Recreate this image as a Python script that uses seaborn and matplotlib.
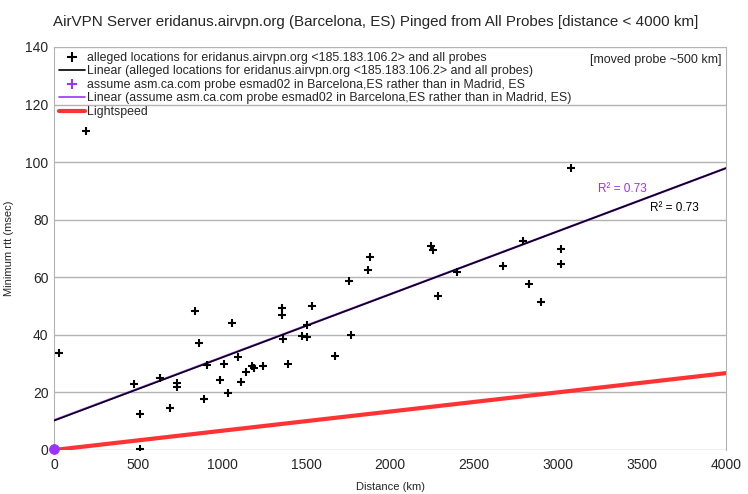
import numpy as np
import pandas as pd
import matplotlib
matplotlib.use('Agg')
import matplotlib.pyplot as plt
import seaborn as sns
from matplotlib.lines import Line2D

# probe distances (km) and minimum rtt (msec)
distance_km = [32, 190, 474, 512, 512, 629, 689, 730, 730, 841, 863, 893, 909,
               986, 1010, 1036, 1060, 1097, 1113, 1143, 1181, 1192, 1242, 1355,
               1357, 1363, 1391, 1476, 1504, 1508, 1534, 1673, 1756, 1766, 1869,
               1881, 2242, 2254, 2288, 2401, 2671, 2792, 2827, 2899, 3018, 3018,
               3075]
min_rtt = [33.8, 110.9, 22.8, 12.6, 0.2, 25.1, 14.7, 23.4, 22.0, 48.4, 37.3, 17.8,
           29.5, 24.4, 29.9, 19.9, 44.0, 32.2, 23.6, 27.2, 29.2, 28.6, 29.2, 49.2,
           46.9, 38.7, 30.0, 39.6, 43.5, 39.3, 50.0, 32.8, 58.8, 40.0, 62.5, 67.0,
           71.0, 69.4, 53.6, 61.9, 64.0, 72.7, 57.5, 51.5, 69.8, 64.6, 97.8]

# esmad02 probe moved to Barcelona
moved_distance = [0]
moved_rtt = [0.3]

# lightspeed round trip
light_distance = [0, 4000]
light_rtt = [0, 26.7]

# linear trend lines as shown (intercept msec, slope msec/km)
trend_all = (10.2, 0.02193)
trend_moved = (10.3, 0.02190)
r2_all = 'R² = 0.73'
r2_moved = 'R² = 0.73'

df = pd.DataFrame({'Distance': distance_km, 'rtt': min_rtt})
moved = pd.DataFrame({'Distance': moved_distance, 'rtt': moved_rtt})
light = pd.DataFrame({'Distance': light_distance, 'rtt': light_rtt})

xfit = np.array(light_distance, dtype=float)
fit1 = pd.DataFrame({'Distance': xfit, 'rtt': trend_all[0] + trend_all[1] * xfit})
fit2 = pd.DataFrame({'Distance': xfit, 'rtt': trend_moved[0] + trend_moved[1] * xfit})

sns.set_style('white')
plt.rcParams['font.family'] = ['Liberation Sans', 'DejaVu Sans']

fig = plt.figure(figsize=(7.48, 4.94), dpi=100)
ax = fig.add_axes([0.0722, 0.0891, 0.8984, 0.8158])

purple = '#9933ff'
sns.lineplot(data=light, x='Distance', y='rtt', color='#ff3333', lw=3, ax=ax, zorder=3)
sns.lineplot(data=fit2, x='Distance', y='rtt', color=purple, lw=1.6, ax=ax, zorder=4)
sns.lineplot(data=fit1, x='Distance', y='rtt', color='black', lw=1.1, ax=ax, zorder=5)
sns.scatterplot(data=df, x='Distance', y='rtt', marker='+', color='black', s=36,
                linewidth=1.5, ax=ax, zorder=6)
sns.scatterplot(data=moved, x='Distance', y='rtt', marker='o', color=purple, s=50,
                edgecolor=purple, ax=ax, zorder=7, clip_on=False)

ax.text(3381, 90.6, r2_moved, color=purple, fontsize=8.5, ha='center', va='center')
ax.text(3690, 84.1, r2_all, color='black', fontsize=8.5, ha='center', va='center')

ax.set_xlim(0, 4000)
ax.set_ylim(0, 140)
ax.set_xticks(np.arange(0, 4001, 500))
ax.set_yticks(np.arange(0, 141, 20))
ax.tick_params(labelsize=10, length=0, pad=4)
ax.tick_params(axis='x', pad=6)
ax.grid(axis='y', color='#b3b3b3', lw=1)
for s in ['top', 'bottom']:
    ax.spines[s].set_visible(False)
for s in ['left', 'right']:
    ax.spines[s].set_color('#b3b3b3')
ax.set_xlabel('Distance (km)', fontsize=8)
ax.set_ylabel('Minimum rtt (msec)', fontsize=8)
ax.xaxis.set_label_coords(0.5, -0.08)
ax.yaxis.set_label_coords(-0.06, 0.5)

handles = [
    Line2D([], [], marker='+', ls='none', color='black', markersize=7, mew=1.5),
    Line2D([], [], color='black', lw=1.2),
    Line2D([], [], marker='+', ls='none', color=purple, markersize=7, mew=1.5),
    Line2D([], [], color=purple, lw=1.2),
    Line2D([], [], color='#ff3333', lw=3),
]
labels = [
    'alleged locations for eridanus.airvpn.org <185.183.106.2> and all probes',
    'Linear (alleged locations for eridanus.airvpn.org <185.183.106.2> and all probes)',
    'assume asm.ca.com probe esmad02 in Barcelona,ES rather than in Madrid, ES',
    'Linear (assume asm.ca.com probe esmad02 in Barcelona,ES rather than in Madrid, ES)',
    'Lightspeed',
]
ax.legend(handles, labels, loc='upper left', bbox_to_anchor=(0.0, 1.0), frameon=False,
          fontsize=8.9, handlelength=2.1, handletextpad=0.2, labelspacing=0.12,
          borderaxespad=0.2, borderpad=0.2)
ax.text(0.993, 0.983, '[moved probe ~500 km]', transform=ax.transAxes, fontsize=9,
        ha='right', va='top')

fig.suptitle('AirVPN Server eridanus.airvpn.org (Barcelona, ES) Pinged from All Probes [distance < 4000 km]',
             x=0.502, y=0.97, fontsize=10.9)

fig.savefig('out.png', dpi=100)
